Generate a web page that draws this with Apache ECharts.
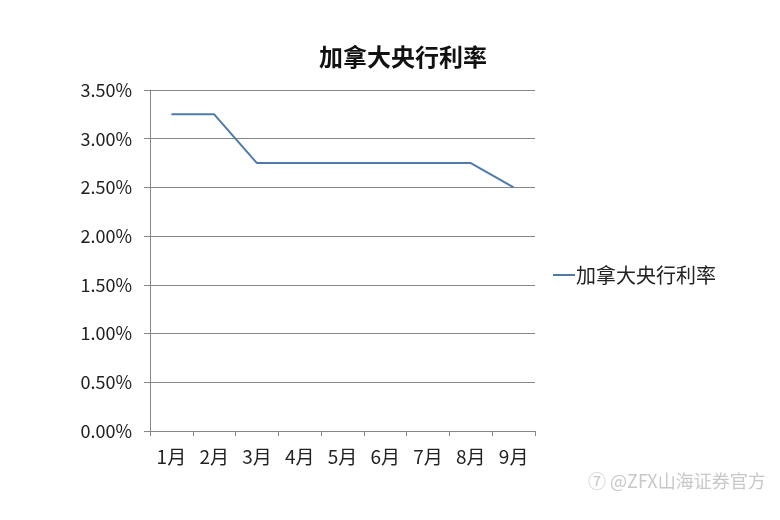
<!DOCTYPE html>
<html><head><meta charset="utf-8">
<script src="https://cdn.jsdelivr.net/npm/echarts@6/dist/echarts.min.js"></script>
<style>html,body{margin:0;padding:0;background:#fff}#c{width:780px;height:520px}</style>
</head><body><div id="c"></div>
<script>
const categories = ['1月','2月','3月','4月','5月','6月','7月','8月','9月'];
const rates = [3.25, 3.25, 2.75, 2.75, 2.75, 2.75, 2.75, 2.75, 2.50];
const seriesName = '加拿大央行利率';
const chart = echarts.init(document.getElementById('c'));
const font = '"Noto Sans CJK SC", "DejaVu Sans", sans-serif';
chart.setOption({
  backgroundColor: '#fff',
  animation: false,
  title: { text: '加拿大央行利率', left: 314, top: 40, textStyle: { fontFamily: font, fontSize: 24, fontWeight: 'bold', color: '#111' } },
  legend: { data: [{ name: seriesName, itemStyle: { color: '#4f7bab' } }], orient: 'vertical', left: 548, top: 260, itemWidth: 22, itemHeight: 2, itemGap: 0,
    icon: 'rect',
    textStyle: { fontFamily: font, fontSize: 20, color: '#222', padding: [0,0,0,-4] } },
  grid: { left: 150, right: 245, top: 90, bottom: 89 },
  xAxis: { type: 'category', data: categories, boundaryGap: true,
    axisLine: { lineStyle: { color: '#868686', width: 1 } },
    axisTick: { show: true, length: 5, lineStyle: { color: '#868686' } },
    axisLabel: { fontFamily: font, fontSize: 19, color: '#222', margin: 16 } },
  yAxis: { type: 'value', min: 0, max: 3.5, interval: 0.5,
    axisLine: { show: true, lineStyle: { color: '#868686' } },
    axisTick: { show: true, length: 6, lineStyle: { color: '#868686' } },
    splitLine: { lineStyle: { color: '#868686', width: 1 } },
    axisLabel: { fontFamily: font, fontSize: 18, color: '#222', margin: 18, formatter: v => v.toFixed(2) + '%' } },
  series: [{ name: seriesName, type: 'line', data: rates, symbol: 'none',
    lineStyle: { color: '#4f7bab', width: 2 }, itemStyle: { color: '#4f7bab' } }],
  graphic: [{ type: 'text', left: 588, top: 472, style: { text: '⑦ @ZFX山海证券官方', fill: '#c8c8c8', font: '18px ' + font } }]
});
</script></body></html>
